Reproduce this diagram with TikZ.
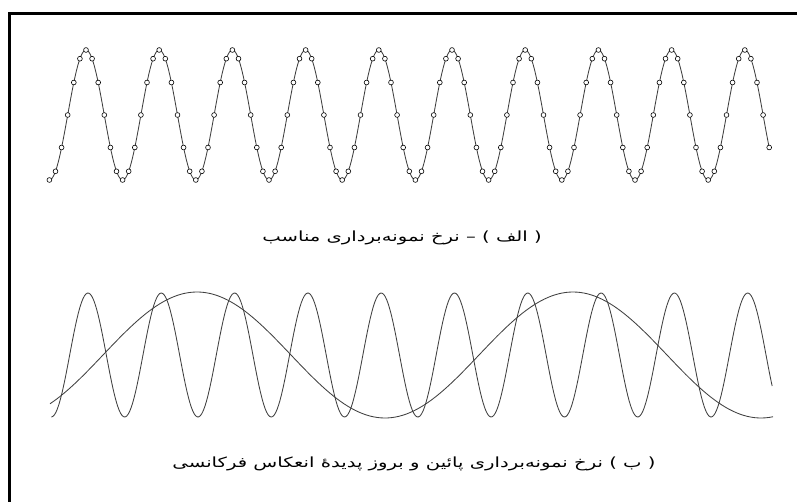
\documentclass[tikz,border=0pt]{standalone}
\usepackage{fontspec}
\newfontfamily\farsi[Script=Arabic, FakeStretch=1.4]{DejaVu Sans}
\TeXXeTstate=1

\begin{document}
\begin{tikzpicture}[x=1pt, y=-1pt,
  wave/.style={draw=black!75, line width=0.85pt, line join=round},
  smp/.style={circle, draw=black, fill=white, line width=0.6pt,
              minimum size=4.8pt, inner sep=0},
  lab/.style={font=\farsi\fontsize{14}{16}\selectfont, inner sep=1pt}]
\useasboundingbox (0,0) rectangle (797,502);
\draw[line width=3pt] (9.5,502) -- (9.5,13.5) -- (797,13.5);
% (a) well sampled
\draw[wave] plot[domain=-180:3360, samples=480]
  ({86+\x/360*73.2}, {115-65*cos(\x)});
\foreach \p [count=\i] in {-180,-150,...,3360}
  \node[smp] (s\i) at ({86+\p/360*73.2}, {115-65*cos(\p)}) {};
\node[lab] (capA) at (402,238)
  {\beginR( الف ) – نرخ نمونه^^^^200cبرداری مناسب\endR};
% (b) undersampled, aliasing
\draw[wave] plot[domain=-180:3360, samples=480]
  ({88+\x/360*73.3}, {355-62*cos(\x)});
\draw[wave] plot[domain=50:773, samples=200]
  (\x, {355-63*cos((\x-197)/376*360)});
\node[lab] (capB) at (414,464)
  {\beginR( ب ) نرخ نمونه^^^^200cبرداری پائین و بروز پدیده^^^^0654 انعکاس فرکانسی\endR};
\end{tikzpicture}
\end{document}
